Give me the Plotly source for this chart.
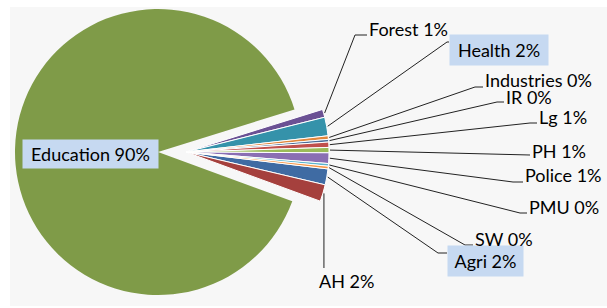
import math
import plotly.graph_objects as go

# ---- data ----
categories = ["Agri", "AH", "Education", "Forest", "Health", "Industries",
              "IR", "Lg", "PH", "Police", "PMU", "SW"]
values = [1.8, 1.9, 89.6, 0.9, 2.1, 0.4, 0.3, 0.6, 0.6, 1.2, 0.3, 0.3]
colors = ["#3F6BA3", "#A5403D", "#7F9B48", "#6B5194", "#3592AA", "#E0863C",
          "#4A6C98", "#C0504D", "#9BBB59", "#8A6EB3", "#5BB4CE", "#F79646"]

# ---- layout constants (pixels) ----
W, H = 607, 308
R = 143
CX_MAIN, CY = 158, 152       # centre of the big (Education) slice
CX_EXPL = 186                # centre of the exploded small slices
ROTATION = 96.8
BIG = "Education"

def px(x):
    return x / W

def py(y):
    return 1 - y / H

def domain(cx):
    return dict(x=[px(cx - R), px(cx + R)], y=[py(CY + R), py(CY - R)])

clear = "rgba(0,0,0,0)"
colsA = [c if n == BIG else clear for n, c in zip(categories, colors)]
colsB = [clear if n == BIG else c for n, c in zip(categories, colors)]
lwB = [0 if n == BIG else 1 for n in categories]

fig = go.Figure()
fig.add_trace(go.Pie(labels=categories, values=values, sort=False,
                     direction="clockwise", rotation=ROTATION,
                     marker=dict(colors=colsA, line=dict(width=0)),
                     textinfo="none", hoverinfo="skip", showlegend=False,
                     domain=domain(CX_MAIN)))
fig.add_trace(go.Pie(labels=categories, values=values, sort=False,
                     direction="clockwise", rotation=ROTATION,
                     marker=dict(colors=colsB, line=dict(color="white", width=lwB)),
                     textinfo="none", hoverinfo="skip", showlegend=False,
                     domain=domain(CX_EXPL)))

# label placement: (elbow x, elbow y, text-left x, text-centre y, box size)
label_pos = {
    "Forest":     (355, 35, 367, 29, None),
    "Health":     (447, 42, 449, 50, (98, 30)),
    "Industries": (475, 87, 483, 80, None),
    "IR":         (497, 102, 504, 97, None),
    "Lg":         (530, 123, 537, 117, None),
    "PH":         (None, 155, 530, 151, None),
    "Police":     (513, 182, 523, 175, None),
    "PMU":        (520, 213, 527, 207, None),
    "SW":         (465, 245, 473, 239, None),
    "Agri":       (438, 253, 447, 261, (75, 30)),
    "AH":         (None, 268, None, 281, None),
}

total = sum(values)
cum = 0.0
shapes = [dict(type="rect", xref="paper", yref="paper", x0=px(10), x1=1,
               y0=py(306), y1=py(7), fillcolor="#F7F7F7", line=dict(width=0),
               layer="below")]
annotations = []
FONT = dict(family="Lato, Carlito, sans-serif", size=18, color="#000000")

for name, v in zip(categories, values):
    a0 = ROTATION + 360 * cum / total
    cum += v
    a1 = ROTATION + 360 * cum / total
    mid = math.radians((a0 + a1) / 2)
    text = f"{name} {round(v / total * 100)}%"
    if name == BIG:
        annotations.append(dict(xref="paper", yref="paper", x=px(22), y=py(154),
                                xanchor="left", yanchor="middle", text=text,
                                showarrow=False, font=FONT, bgcolor="#C6D9F1",
                                width=135, height=28, borderpad=0, align="center"))
        continue
    sx = CX_EXPL + (R + 1) * math.sin(mid)
    sy = CY - (R + 1) * math.cos(mid)
    ex, ey, tx, ty, box = label_pos[name]
    if name == "AH":
        pts = [(sx, sy), (sx, ey)]
        annotations.append(dict(xref="paper", yref="paper", x=px(sx - 7), y=py(ty),
                                xanchor="left", yanchor="middle", text=text,
                                showarrow=False, font=FONT))
    else:
        if ex is None:
            pts = [(sx, sy), (tx, ey)]
        else:
            pts = [(sx, sy), (ex, ey), (tx, ey)]
        ann = dict(xref="paper", yref="paper", x=px(tx), y=py(ty),
                   xanchor="left", yanchor="middle", text=text,
                   showarrow=False, font=FONT)
        if box:
            ann.update(bgcolor="#C6D9F1", width=box[0], height=box[1],
                       borderpad=0, align="center")
        annotations.append(ann)
    for (x0, y0), (x1, y1) in zip(pts[:-1], pts[1:]):
        shapes.append(dict(type="line", xref="paper", yref="paper",
                           x0=px(x0), y0=py(y0), x1=px(x1), y1=py(y1),
                           line=dict(color="#222222", width=1)))

fig.update_layout(width=W, height=H, margin=dict(l=0, r=0, t=0, b=0),
                  paper_bgcolor="white", shapes=shapes, annotations=annotations,
                  showlegend=False)
fig.write_html("out.html", config={"displayModeBar": False},
               post_script="document.body.style.margin='0px';")
